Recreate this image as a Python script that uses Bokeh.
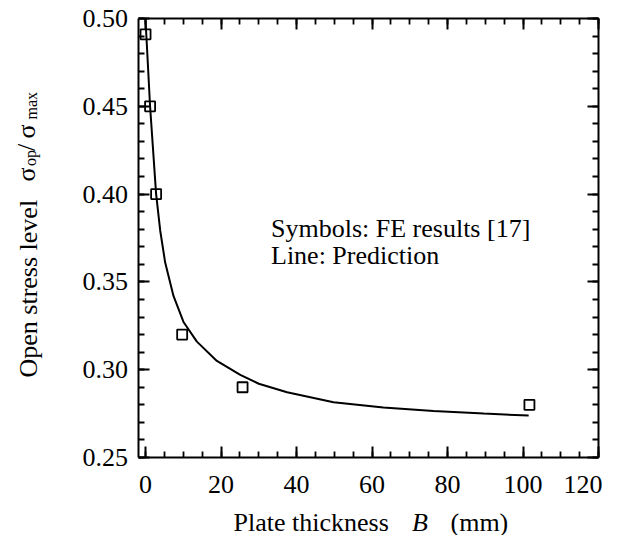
import math
from bokeh.plotting import figure
from bokeh.models import (Label, LinearAxis, SingleIntervalTicker,
                          NumeralTickFormatter, CustomJSTickFormatter, Range1d)
from bokeh.embed import file_html
from bokeh.resources import INLINE

# ---- data ----
fe_thickness = [0.0, 1.2, 2.8, 9.7, 25.7, 101.7]
fe_sop = [0.491, 0.450, 0.400, 0.320, 0.290, 0.280]

pred_thickness = [0.0, 1.2, 2.8, 3.9, 5.2, 7.4, 10.1, 13.6, 18.9, 25.1, 30.0,
                  37.5, 49.8, 63.0, 76.3, 89.6, 101.5]
pred_sop = [0.499, 0.450, 0.400, 0.379, 0.361, 0.342, 0.327, 0.316, 0.305,
            0.297, 0.292, 0.2872, 0.2815, 0.2785, 0.2765, 0.2750, 0.2739]

x_axis_bounds = (-2, 120)
y_axis_bounds = (0.25, 0.50)
x_ticks_interval = 20
y_ticks_interval = 0.05

FONT = "Liberation Serif"
FS = "26px"

W, H = 602, 535
# pixel box of the axes frame in the picture
BL, BR, BT, BB = 137.5, 598.0, 18.0, 457.0
sx = (BR - BL) / (x_axis_bounds[1] - x_axis_bounds[0])
sy = (BB - BT) / (y_axis_bounds[1] - y_axis_bounds[0])
x_range = Range1d(x_axis_bounds[0] - BL / sx, x_axis_bounds[1] + (W - BR) / sx)
y_range = Range1d(y_axis_bounds[0] - (H - BB) / sy, y_axis_bounds[1] + BT / sy)

p = figure(width=W, height=H, x_range=x_range, y_range=y_range,
           output_backend="svg", toolbar_location=None,
           x_axis_location=None, y_axis_location=None,
           min_border=0)
p.xgrid.visible = False
p.ygrid.visible = False
p.background_fill_color = "white"
p.border_fill_color = "white"
p.outline_line_color = None

xt = SingleIntervalTicker(interval=x_ticks_interval, num_minor_ticks=4)
yt = SingleIntervalTicker(interval=y_ticks_interval, num_minor_ticks=5)


def make_axis(ticker, loc, bounds, show_labels, standoff=10, fmt=None):
    ax = LinearAxis(ticker=ticker, fixed_location=loc, bounds=bounds)
    ax.axis_line_width = 2
    ax.axis_line_color = "black"
    ax.major_tick_in = 11
    ax.major_tick_out = 0
    ax.minor_tick_in = 6
    ax.minor_tick_out = 0
    ax.major_tick_line_width = 2
    ax.minor_tick_line_width = 1.8
    ax.major_tick_line_color = "black"
    ax.minor_tick_line_color = "black"
    ax.major_label_text_font = FONT
    ax.major_label_text_color = "black"
    ax.major_label_text_font_size = FS
    if show_labels:
        ax.major_label_standoff = standoff
        if fmt is not None:
            ax.formatter = fmt
    else:
        ax.major_label_standoff = 0
        ax.formatter = CustomJSTickFormatter(code="return ''")
    return ax


p.add_layout(make_axis(xt, y_axis_bounds[0], x_axis_bounds, True, 18), "below")
p.add_layout(make_axis(yt, x_axis_bounds[0], y_axis_bounds, True, 10,
                       NumeralTickFormatter(format="0.00")), "left")
p.add_layout(make_axis(xt, y_axis_bounds[1], x_axis_bounds, False), "above")
p.add_layout(make_axis(yt, x_axis_bounds[1], y_axis_bounds, False), "right")

# prediction line and FE symbols
p.line(pred_thickness, pred_sop, line_color="black", line_width=2)
p.scatter(fe_thickness, fe_sop, marker="square", size=10,
          fill_color=None, line_color="black", line_width=1.8)

# measured shift of the alphabetic baseline in the svg output
SHIFT = 7.5


def at(px, py):
    """picture pixel -> data coordinates"""
    return (x_axis_bounds[0] + (px - BL) / sx,
            y_axis_bounds[1] - (py - BT) / sy)


def label(text, px, py, size=FS, angle=0.0, style="normal"):
    if angle == 0.0:
        py -= SHIFT
    else:
        px -= SHIFT
    x, y = at(px, py)
    p.add_layout(Label(x=x, y=y, text=text, angle=angle,
                       text_font=FONT, text_font_size=size,
                       text_font_style=style, text_color="black",
                       text_align="left", text_baseline="alphabetic"))


# in-plot annotation
label("Symbols: FE results [17]", 270.5, 235)
label("Line: Prediction", 270.5, 262)

# y axis title (rotated)
R = math.pi / 2
label("Open stress level", 35.5, 377, angle=R)
label("σ", 33.5, 181, angle=R)
label("op", 37.5, 165.5, size="16px", angle=R)
label("/", 33.5, 150.5, angle=R)
label("σ", 33.5, 138, angle=R)
label("max", 38.5, 119, size="16px", angle=R)

# x axis title
label("Plate thickness", 233, 529)
label("B", 411.5, 529, style="italic")
label("(mm)", 450, 529)

open("out.html", "w").write(file_html(p, INLINE))
